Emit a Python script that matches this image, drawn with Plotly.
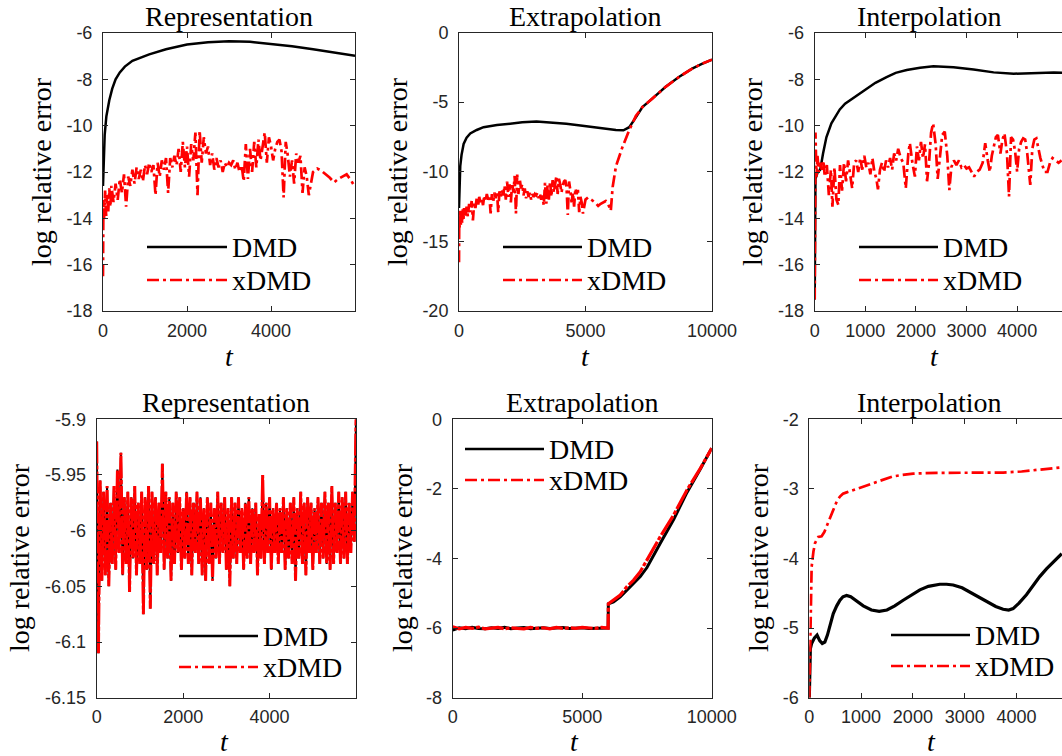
import plotly.graph_objects as go

W, H = 1062, 756

# ---------------- DATA ----------------
# Row 1, Representation
rep1_dmd_t = [0, 15, 40, 80, 150, 220, 300, 400, 520, 700, 900, 1100, 1500, 2000, 2500, 3000, 3500, 4000, 4500, 5000, 5500, 6000]
rep1_dmd_v = [-12.6, -11.4, -10.4, -9.6, -8.9, -8.4, -8.0, -7.7, -7.45, -7.2, -7.05, -6.92, -6.7, -6.5, -6.4, -6.36, -6.38, -6.46, -6.57, -6.7, -6.83, -6.98]
rep1_xdmd_t = [0, 10, 25, 50, 75, 100, 125, 150, 175, 200, 250, 300, 350, 400, 450, 500, 550, 600, 650, 700,
               750, 800, 850, 900, 950, 1000, 1050, 1100, 1150, 1200, 1250, 1300, 1350, 1400, 1450, 1500, 1550, 1600, 1650, 1700,
               1750, 1800, 1850, 1900, 1950, 2000, 2050, 2100, 2150, 2200, 2250, 2300, 2350, 2400, 2450, 2500, 2550, 2600, 2650, 2700,
               2750, 2800, 2850, 2900, 2950, 3000, 3050, 3100, 3150, 3200, 3250, 3300, 3350, 3400, 3450, 3500, 3550, 3600, 3650, 3700,
               3750, 3800, 3850, 3900, 3950, 4000, 4050, 4100, 4150, 4200, 4250, 4300, 4350, 4400, 4450, 4500, 4550, 4600, 4650, 4700,
               4750, 4800, 4850, 4900, 4950, 5000, 5100, 5200, 5300, 5400, 5500, 5600, 5700, 5800, 5900, 6000]
rep1_xdmd_v = [-16.5, -13.2, -14.0, -12.8, -13.9, -13.0, -13.7, -12.7, -13.5, -12.6, -13.3, -12.5, -13.2, -12.3, -12.9, -12.1, -13.5, -12.2, -12.6, -11.9,
               -12.5, -11.8, -12.3, -11.9, -12.4, -11.7, -12.1, -11.6, -12.0, -11.7, -13.0, -11.6, -12.2, -11.5, -11.9, -11.4, -12.9, -11.4, -11.8, -11.3,
               -11.7, -11.0, -12.0, -10.7, -11.8, -10.9, -12.2, -10.8, -11.5, -10.3, -13.0, -10.2, -11.6, -10.5, -11.2, -10.9, -11.7, -11.2, -11.9, -11.4,
               -11.8, -11.5, -12.0, -11.6, -11.8, -11.6, -11.7, -11.5, -11.9, -11.6, -12.0, -11.7, -12.4, -10.8, -12.3, -11.0, -12.0, -10.7, -11.8, -10.6,
               -11.5, -10.9, -10.3, -11.6, -10.5, -10.9, -11.5, -11.0, -10.7, -10.6, -11.1, -13.1, -10.7, -11.3, -12.2, -11.5, -12.5, -11.2, -11.6, -11.3,
               -12.9, -11.8, -12.2, -13.0, -12.5, -12.0, -11.85, -11.95, -12.1, -12.25, -12.45, -12.3, -12.2, -12.1, -12.35, -12.65]

# Row 1, Extrapolation
ext1_dmd_t = [0, 20, 50, 100, 183, 300, 445, 700, 970, 1500, 2015, 2500, 3063, 3600, 4240, 4800, 5290, 5800, 6200, 6500, 6730, 6990, 7250, 7640, 8170, 8690, 9215, 9600, 10000]
ext1_dmd_v = [-12.6, -11.0, -9.6, -8.8, -8.0, -7.55, -7.25, -7.0, -6.8, -6.65, -6.52, -6.45, -6.4, -6.45, -6.55, -6.68, -6.8, -6.9, -7.0, -7.02, -6.8, -6.1, -5.35, -4.75, -3.9, -3.2, -2.6, -2.25, -1.95]
ext1_tail_t = [6073, 6204, 6466, 6730, 6990, 7250, 7640, 8170, 8690, 9215, 9600, 10000]
ext1_tail_v = [-11.1, -9.6, -8.2, -7.0, -6.0, -5.35, -4.75, -3.9, -3.2, -2.6, -2.25, -1.95]

# Row 1, Interpolation
int1_dmd_t = [0, 15, 60, 110, 165, 231, 330, 410, 496, 600, 760, 1000, 1200, 1420, 1600, 1818, 2082, 2346, 2743, 3140, 3536, 3933, 4330, 4726, 4900]
int1_dmd_v = [-17.5, -12.3, -12.0, -11.9, -11.2, -10.5, -9.9, -9.6, -9.3, -9.05, -8.8, -8.45, -8.15, -7.9, -7.72, -7.6, -7.5, -7.44, -7.48, -7.58, -7.7, -7.76, -7.73, -7.7, -7.72]
int1_xdmd_t = [0, 15, 35, 55, 80, 110, 140, 170, 200, 240, 280, 320, 350, 390, 430, 467, 500, 540, 580, 620,
               660, 700, 740, 780, 820, 860, 900, 940, 980, 1020, 1060, 1100, 1140, 1180, 1220, 1250, 1290, 1330, 1370, 1410,
               1450, 1490, 1530, 1570, 1610, 1650, 1700, 1750, 1800, 1850, 1880, 1930, 1980, 2020, 2060, 2100, 2140, 2180, 2220, 2260,
               2300, 2340, 2390, 2430, 2470, 2520, 2570, 2620, 2660, 2700, 2750, 2800, 2850, 2900, 2950, 3000, 3050, 3100, 3150, 3200,
               3260, 3320, 3370, 3420, 3460, 3500, 3540, 3580, 3620, 3670, 3710, 3750, 3800, 3840, 3880, 3920, 3960, 4000, 4040, 4080,
               4120, 4160, 4200, 4260, 4300, 4340, 4380, 4420, 4460, 4500, 4540, 4600, 4650, 4700, 4760, 4820, 4880]
int1_xdmd_v = [-17.5, -10.3, -12.2, -11.3, -12.0, -11.6, -11.9, -11.5, -12.2, -11.7, -13.0, -11.9, -13.5, -11.8, -13.2, -13.42, -11.7, -12.8, -11.6, -12.4,
               -11.5, -12.2, -12.7, -11.6, -11.5, -12.0, -11.4, -11.9, -11.3, -11.8, -11.6, -12.1, -11.4, -12.0, -12.3, -12.75, -11.9, -11.6, -12.0, -11.5,
               -11.8, -11.4, -11.9, -11.2, -11.5, -11.0, -11.4, -11.6, -12.7, -11.2, -10.75, -11.6, -12.2, -10.9, -11.5, -10.7, -11.4, -10.8, -12.4, -11.6,
               -10.3, -9.9, -10.8, -12.3, -11.4, -10.4, -10.26, -11.3, -12.78, -11.8, -11.5, -11.7, -11.5, -11.8, -11.7, -11.85, -11.8, -12.0, -12.2, -12.0,
               -11.9, -11.6, -10.76, -11.5, -12.0, -11.3, -10.9, -10.5, -10.4, -11.2, -10.6, -10.33, -11.2, -13.06, -10.5, -10.6, -11.1, -11.98, -11.0, -10.7,
               -10.55, -10.6, -11.2, -12.56, -11.0, -10.6, -10.55, -11.0, -11.4, -11.7, -12.0, -12.0, -11.6, -11.4, -11.5, -11.6, -11.5]

# Row 2, Representation (DMD and xDMD nearly identical)
rep2_t = [0, 40, 80, 120, 160, 200, 240, 280, 320, 360, 400, 440, 480, 520, 560, 600, 640, 680, 720, 760,
          800, 840, 880, 920, 960, 1000, 1040, 1080, 1120, 1160, 1200, 1240, 1280, 1320, 1360, 1400, 1440, 1480, 1520, 1560,
          1600, 1640, 1680, 1720, 1760, 1800, 1840, 1880, 1920, 1960, 2000, 2040, 2080, 2120, 2160, 2200, 2240, 2280, 2320, 2360,
          2400, 2440, 2480, 2520, 2560, 2600, 2640, 2680, 2720, 2760, 2800, 2840, 2880, 2920, 2960, 3000, 3040, 3080, 3120, 3160,
          3200, 3240, 3280, 3320, 3360, 3400, 3440, 3480, 3520, 3560, 3600, 3640, 3680, 3720, 3760, 3800, 3840, 3880, 3920, 3960,
          4000, 4040, 4080, 4120, 4160, 4200, 4240, 4280, 4320, 4360, 4400, 4440, 4480, 4520, 4560, 4600, 4640, 4680, 4720, 4760,
          4800, 4840, 4880, 4920, 4960, 5000, 5040, 5080, 5120, 5160, 5200, 5240, 5280, 5320, 5360, 5400, 5440, 5480, 5520, 5560,
          5600, 5640, 5680, 5720, 5760, 5800, 5840, 5880, 5920, 5960, 5999]
rep2_dmd_v = [-5.92, -6.11, -5.955, -6.045, -5.965, -6.04, -5.96, -6.05, -5.975, -6.03, -5.96, -6.035, -5.945, -6.02, -5.93, -6.04, -5.97, -6.03, -5.965, -6.055,
              -5.97, -6.025, -5.96, -6.04, -5.975, -6.03, -5.965, -6.075, -5.97, -6.035, -5.96, -6.07, -5.965, -6.03, -5.97, -6.04, -5.975, -6.02, -5.94, -6.035,
              -5.965, -6.025, -5.97, -6.045, -5.975, -6.03, -5.965, -6.02, -5.97, -6.035, -5.98, -6.025, -5.965, -6.03, -5.97, -6.04, -5.975, -6.02, -5.965, -6.03,
              -5.97, -6.04, -5.98, -6.045, -5.97, -6.03, -5.975, -6.045, -5.98, -6.025, -5.965, -6.03, -5.975, -6.02, -5.97, -6.035, -5.98, -6.05, -5.97, -6.025,
              -5.975, -6.03, -5.97, -6.02, -5.98, -6.035, -5.975, -6.025, -5.97, -6.03, -5.98, -6.02, -5.975, -6.04, -5.985, -6.025, -5.95, -6.03, -5.975, -6.02,
              -5.97, -6.035, -5.98, -6.02, -5.975, -6.03, -5.98, -6.02, -5.97, -6.035, -5.98, -6.025, -5.975, -6.03, -5.97, -6.045, -5.98, -6.025, -5.965, -6.03,
              -5.975, -6.04, -5.97, -6.02, -5.975, -6.035, -5.98, -6.02, -5.97, -6.03, -5.975, -6.025, -5.965, -6.03, -5.975, -6.035, -5.96, -6.03, -5.975, -6.02,
              -5.965, -6.03, -5.97, -6.025, -5.965, -6.03, -5.975, -6.02, -5.965, -6.01, -5.90]
rep2_xdmd_v = list(rep2_dmd_v)

# Row 2, Extrapolation
ext2_flat_t = [0, 250, 500, 750, 1000, 1250, 1500, 1750, 2000, 2250, 2500, 2750, 3000, 3250, 3500, 3750, 4000, 4250, 4500, 4750, 5000, 5250, 5500, 5750, 6000]
ext2_dmd_flat = [-6.06, -5.99, -6.02, -5.98, -6.01, -6.02, -5.99, -6.01, -5.98, -6.02, -6.0, -5.98, -6.02, -6.0, -5.99, -6.01, -6.0, -5.98, -6.01, -6.0, -5.99, -6.01, -6.0, -5.99, -6.0]
ext2_xdmd_flat = [-5.96, -6.02, -5.98, -6.01, -5.97, -6.02, -6.0, -5.98, -6.02, -5.99, -6.01, -6.02, -5.98, -6.01, -5.99, -6.02, -5.98, -6.01, -5.99, -6.01, -5.98, -6.0, -6.01, -5.98, -6.0]
ext2_dmd_t = [6010, 6211, 6469, 6727, 6985, 7242, 7500, 7758, 8015, 8531, 9046, 9562, 10000]
ext2_dmd_v = [-5.3, -5.25, -5.1, -4.9, -4.72, -4.52, -4.26, -3.93, -3.56, -2.88, -2.1, -1.43, -0.83]
ext2_xdmd_t = [6010, 6211, 6469, 6727, 6985, 7242, 7500, 7758, 8015, 8531, 9046, 9562, 10000]
ext2_xdmd_v = [-5.3, -5.19, -5.05, -4.81, -4.62, -4.38, -4.04, -3.71, -3.37, -2.75, -2.03, -1.41, -0.83]

# Row 2, Interpolation
int2_dmd_t = [0, 20, 45, 100, 150, 200, 250, 300, 350, 400, 463, 530, 592, 650, 720, 800, 900, 1042, 1200, 1350, 1500, 1650, 1813, 2000,
              2135, 2300, 2520, 2650, 2778, 2950, 3100, 3250, 3421, 3600, 3743, 3850, 3936, 4050, 4193, 4320, 4450, 4580, 4707, 4875]
int2_dmd_v = [-6.0, -5.3, -5.22, -5.14, -5.1, -5.18, -5.22, -5.2, -5.1, -4.95, -4.79, -4.68, -4.6, -4.55, -4.53, -4.55, -4.6, -4.68, -4.74, -4.76, -4.74, -4.68, -4.6, -4.51,
              -4.45, -4.4, -4.37, -4.37, -4.38, -4.42, -4.48, -4.55, -4.62, -4.69, -4.73, -4.74, -4.72, -4.64, -4.52, -4.39, -4.26, -4.15, -4.05, -3.93]
int2_xdmd_t = [0, 26, 45, 80, 110, 174, 238, 290, 334, 400, 463, 530, 592, 650, 720, 850, 977, 1150, 1300, 1450, 1620, 1800, 2006, 2457, 3100, 3743, 4100, 4386, 4875]
int2_xdmd_v = [-6.0, -4.8, -4.12, -3.9, -3.78, -3.69, -3.68, -3.62, -3.54, -3.42, -3.30, -3.18, -3.11, -3.07, -3.05, -3.02, -2.99, -2.94, -2.9, -2.86, -2.82, -2.8, -2.78, -2.77, -2.77, -2.765, -2.75, -2.73, -2.69]

titles = ["Representation", "Extrapolation", "Interpolation"]

# ---------------- LAYOUT HELPERS ----------------
def px(x):
    return x / W

def py(y):
    return 1 - y / H

AX = "#262626"
SERIF = "Liberation Serif"
SANS = "Liberation Sans"

# panel geometry in pixels: left, right, top, bottom
panels = [
    dict(l=103, r=355, t=33, b=311, xr=[0, 5999], xt=[0, 2000, 4000], yr=[-18, -6], yt=[-18, -16, -14, -12, -10, -8, -6], right=False),
    dict(l=459, r=712, t=32.5, b=311, xr=[0, 10000], xt=[0, 5000, 10000], yr=[-20, 0], yt=[-20, -15, -10, -5, 0], right=False),
    dict(l=814.7, r=1062, t=33, b=311, xr=[0, 4887], xt=[0, 1000, 2000, 3000, 4000], yr=[-18, -6], yt=[-18, -16, -14, -12, -10, -8, -6], right=True),
    dict(l=96.7, r=356, t=419.3, b=697.7, xr=[0, 5999], xt=[0, 2000, 4000], yr=[-6.15, -5.9], yt=[-6.15, -6.1, -6.05, -6.0, -5.95, -5.9], right=False),
    dict(l=452.7, r=711.7, t=419.3, b=697.7, xr=[0, 10000], xt=[0, 5000, 10000], yr=[-8, 0], yt=[-8, -6, -4, -2, 0], right=False),
    dict(l=809.3, r=1062, t=419.3, b=697.7, xr=[0, 4880], xt=[0, 1000, 2000, 3000, 4000], yr=[-6, -2], yt=[-6, -5, -4, -3, -2], right=True),
]

def fmt(v):
    return "%g" % v

layout = dict(
    template="none",
    width=W, height=H,
    margin=dict(l=0, r=0, t=0, b=0, pad=0, autoexpand=False),
    paper_bgcolor="white", plot_bgcolor="white",
    showlegend=False,
    annotations=[], shapes=[],
)

for i, p in enumerate(panels):
    n = "" if i == 0 else str(i + 1)
    layout["xaxis" + n] = dict(
        domain=[px(p["l"]), px(p["r"])], range=p["xr"], anchor="y" + n,
        tickvals=p["xt"], ticktext=[fmt(v) for v in p["xt"]],
        showline=True, linecolor=AX, linewidth=1, mirror="ticks",
        ticks="inside", ticklen=5, tickcolor=AX, tickwidth=1,
        showgrid=False, zeroline=False, fixedrange=True, automargin=False,
        tickfont=dict(family=SANS, size=18, color=AX), ticklabelstandoff=3,
    )
    layout["yaxis" + n] = dict(
        domain=[py(p["b"]), py(p["t"])], range=p["yr"], anchor="x" + n,
        tickvals=p["yt"], ticktext=[fmt(v) for v in p["yt"]],
        showline=True, linecolor=AX, linewidth=1, mirror=(False if p["right"] else "ticks"),
        ticks="inside", ticklen=5, tickcolor=AX, tickwidth=1,
        showgrid=False, zeroline=False, fixedrange=True, automargin=False,
        tickfont=dict(family=SANS, size=18, color=AX), ticklabelstandoff=6,
    )

fig = go.Figure()

BLACK = "#000000"
RED = "#ff0000"
DASHDOT = "12px,4px,3px,4px"
DENSE = "22px,2px,4px,2px"

def add(i, t, v, color, dash, width=2.5):
    n = "" if i == 0 else str(i + 1)
    fig.add_trace(go.Scatter(x=t, y=v, mode="lines", xaxis="x" + n, yaxis="y" + n,
                             line=dict(color=color, width=width, dash=dash), hoverinfo="skip"))

add(0, rep1_dmd_t, rep1_dmd_v, BLACK, "solid")
add(0, rep1_xdmd_t, rep1_xdmd_v, RED, DASHDOT, 2.7)

add(1, ext1_dmd_t, ext1_dmd_v, BLACK, "solid")
add(1, rep1_xdmd_t + ext1_tail_t, rep1_xdmd_v[:-1] + [-12.8] + ext1_tail_v, RED, DASHDOT, 2.7)

add(2, int1_dmd_t, int1_dmd_v, BLACK, "solid")
add(2, int1_xdmd_t, int1_xdmd_v, RED, DASHDOT, 2.7)

add(3, rep2_t, rep2_dmd_v, BLACK, "solid", 2)
add(3, rep2_t, rep2_xdmd_v, RED, DENSE, 3)

add(4, ext2_flat_t + ext2_dmd_t, ext2_dmd_flat + ext2_dmd_v, BLACK, "solid", 3)
add(4, ext2_flat_t + ext2_xdmd_t, ext2_xdmd_flat + ext2_xdmd_v, RED, DENSE, 3.2)

add(5, int2_dmd_t, int2_dmd_v, BLACK, "solid", 3.2)
add(5, int2_xdmd_t, int2_xdmd_v, RED, DASHDOT, 2.7)

ann = layout["annotations"]
shp = layout["shapes"]

# titles
title_pos = [(229, 16), (585, 16), (929, 16), (226, 402), (582, 402), (929, 402)]
for i, (x, y) in enumerate(title_pos):
    ann.append(dict(text=titles[i % 3], x=px(x), y=py(y), xref="paper", yref="paper",
                    xanchor="center", yanchor="middle", showarrow=False,
                    font=dict(family=SERIF, size=28, color="black")))

# y labels
ylab_pos = [(42, 172), (398, 172), (753, 172), (19, 558), (402, 558), (758, 558)]
for (x, y) in ylab_pos:
    ann.append(dict(text="log relative error", x=px(x), y=py(y), xref="paper", yref="paper",
                    xanchor="center", yanchor="middle", showarrow=False, textangle=-90,
                    font=dict(family=SERIF, size=28, color="black")))

# x labels
xlab_pos = [(229, 356), (585, 356), (934, 356), (224, 741), (574, 741), (931, 741)]
for (x, y) in xlab_pos:
    ann.append(dict(text="<i>t</i>", x=px(x), y=py(y), xref="paper", yref="paper",
                    xanchor="center", yanchor="middle", showarrow=False,
                    font=dict(family=SERIF, size=28, color="black")))

# legends: (line x0, line x1, y DMD, y xDMD)
leg = [(147, 227, 247, 280), (503, 582, 247, 280), (859, 938, 247, 280),
       (179, 258, 636, 667), (465, 544, 449, 480), (891, 970, 635, 666)]
for (x0, x1, y1, y2) in leg:
    shp.append(dict(type="line", xref="paper", yref="paper", x0=px(x0), x1=px(x1), y0=py(y1), y1=py(y1),
                    line=dict(color=BLACK, width=2.5)))
    shp.append(dict(type="line", xref="paper", yref="paper", x0=px(x0), x1=px(x1), y0=py(y2), y1=py(y2),
                    line=dict(color=RED, width=2.7, dash=DASHDOT)))
    ann.append(dict(text="DMD", x=px(x1 + 3), y=py(y1), xref="paper", yref="paper",
                    xanchor="left", yanchor="middle", showarrow=False,
                    font=dict(family=SERIF, size=28, color="black")))
    ann.append(dict(text="xDMD", x=px(x1 + 3), y=py(y2), xref="paper", yref="paper",
                    xanchor="left", yanchor="middle", showarrow=False,
                    font=dict(family=SERIF, size=28, color="black")))

fig.update_layout(**layout)
fig.write_html("out.html", config={"displayModeBar": False},
               post_script="document.body.style.margin='0px';document.body.style.overflow='hidden';")
